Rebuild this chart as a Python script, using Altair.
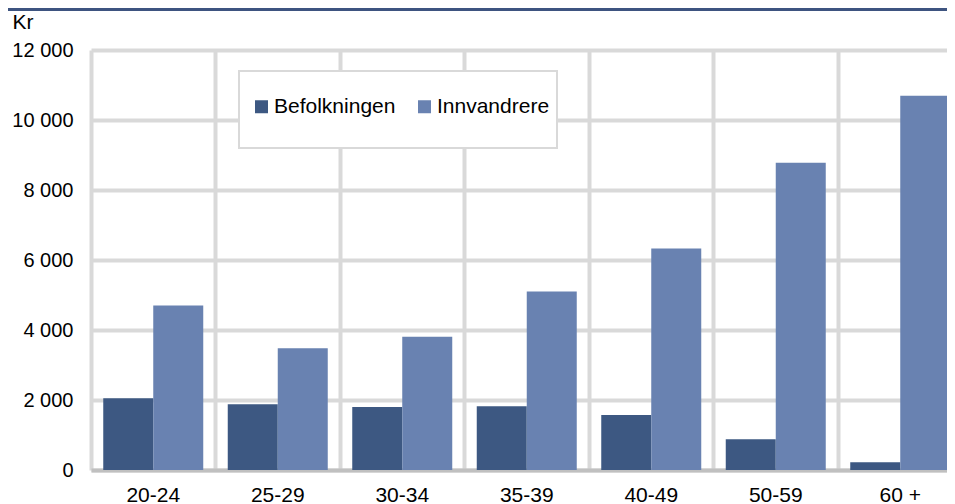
import altair as alt
import pandas as pd

groups = ["20-24", "25-29", "30-34", "35-39", "40-49", "50-59", "60 +"]
series = ["Befolkningen", "Innvandrere"]
befolkningen = [2050, 1880, 1800, 1820, 1570, 880, 220]
innvandrere = [4700, 3480, 3810, 5100, 6330, 8780, 10690]
y_ticks = [0, 2000, 4000, 6000, 8000, 10000, 12000]
colors = ["#3d5882", "#6982b1"]

rows = []
for g, b, i in zip(groups, befolkningen, innvandrere):
    rows.append({"Alder": g, "Serie": series[0], "Kr": b})
    rows.append({"Alder": g, "Serie": series[1], "Kr": i})
df = pd.DataFrame(rows)

FONT = "Liberation Sans"
W = 856          # visible plot width (page fits exactly)
X_RANGE = 871.5  # category band range; last band runs past the page edge

bars = alt.Chart(df).mark_bar().encode(
    x=alt.X(
        "Alder:N",
        sort=groups,
        scale=alt.Scale(paddingInner=0, paddingOuter=0, range=[0, X_RANGE]),
        axis=alt.Axis(
            title=None,
            labelAngle=0,
            grid=True,
            gridColor="#d9d9d9",
            gridWidth=4,
            bandPosition=0,
            ticks=False,
            tickSize=0,
            domain=True,
            domainColor="#c0c0c0",
            domainWidth=4,
            labelFontSize=21,
            labelPadding=14,
            labelColor="black",
            labelFont=FONT,
        ),
    ),
    xOffset=alt.XOffset(
        "Serie:N", sort=series, scale=alt.Scale(paddingInner=0, paddingOuter=0.245)
    ),
    y=alt.Y(
        "Kr:Q",
        scale=alt.Scale(domain=[0, 12000], nice=False),
        axis=alt.Axis(
            values=y_ticks,
            labelExpr="replace(format(datum.value, ','), ',', ' ')",
            title="Kr",
            titleAngle=0,
            titleX=-79,
            titleY=-22,
            titleAlign="left",
            titleBaseline="alphabetic",
            titleFontSize=21,
            titleFontWeight="normal",
            titleFont=FONT,
            titleColor="black",
            grid=True,
            gridColor="#d9d9d9",
            gridWidth=4,
            domain=False,
            ticks=False,
            tickSize=0,
            labelFontSize=20,
            labelPadding=18,
            labelColor="black",
            labelFont=FONT,
        ),
    ),
    color=alt.Color(
        "Serie:N",
        sort=series,
        scale=alt.Scale(domain=series, range=colors),
        legend=alt.Legend(
            title=None,
            orient="none",
            legendX=160,
            legendY=46,
            direction="horizontal",
            symbolType="square",
            symbolSize=169,
            symbolStrokeWidth=0,
            labelFontSize=21,
            labelFont=FONT,
            labelColor="black",
            labelOffset=2,
            columnPadding=18,
            padding=0,
        ),
    ),
)

one = pd.DataFrame({"a": [0]})
box = alt.Chart(one).mark_rect(fill="white", stroke="#d9d9d9", strokeWidth=2).encode(
    x=alt.value(148), x2=alt.value(466), y=alt.value(21), y2=alt.value(98)
)
top_rule = alt.Chart(one).mark_rule(color="#3e5480", strokeWidth=3).encode(
    x=alt.value(-83), x2=alt.value(W), y=alt.value(-40.5)
)

chart = alt.layer(box, bars, top_rule).properties(
    width=W,
    height=420,
    autosize=alt.AutoSizeParams(type="none"),
    padding={"left": 83, "top": 42, "right": 0, "bottom": 40},
).configure_view(stroke=None)

chart.save("out.html", embed_options={"renderer": "svg", "actions": False})
